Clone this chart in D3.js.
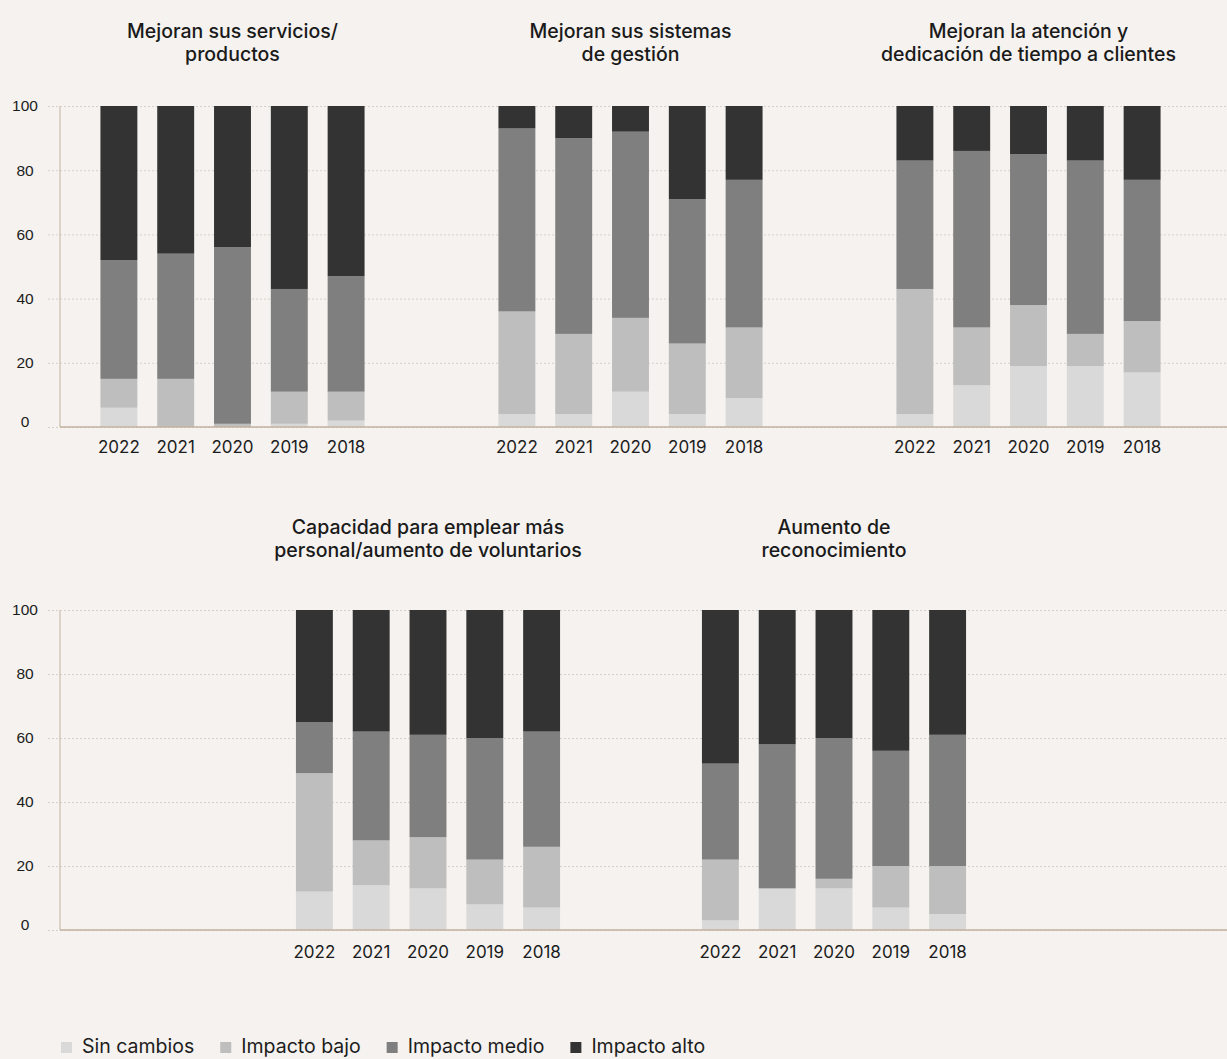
<!DOCTYPE html>
<html>
<head>
<meta charset="utf-8">
<script src="https://cdn.jsdelivr.net/npm/d3@7"></script>
<style>
  body { margin: 0; background: #f5f2ef; }
  svg { display: block; font-family: Inter, "Noto Sans", sans-serif; }
</style>
</head>
<body>
<div id="chart"></div>
<script>
const years = ["2022", "2021", "2020", "2019", "2018"];
const seriesNames = ["Sin cambios", "Impacto bajo", "Impacto medio", "Impacto alto"];
const seriesColors = ["#d9d9d9", "#bebebe", "#7f7f7f", "#333333"];
const yTicks = [0, 20, 40, 60, 80, 100];

// one array per series (sin cambios, bajo, medio, alto), values in year order
const servicios = [[6, 0, 0, 1, 2], [9, 15, 1, 10, 9], [37, 39, 55, 32, 36], [48, 46, 44, 57, 53]];
const gestion = [[4, 4, 11, 4, 9], [32, 25, 23, 22, 22], [57, 61, 58, 45, 46], [7, 10, 8, 29, 23]];
const atencion = [[4, 13, 19, 19, 17], [39, 18, 19, 10, 16], [40, 55, 47, 54, 44], [17, 14, 15, 17, 23]];
const personal = [[12, 14, 13, 8, 7], [37, 14, 16, 14, 19], [16, 34, 32, 38, 36], [35, 38, 39, 40, 38]];
const reconocimiento = [[3, 13, 13, 7, 5], [19, 0, 3, 13, 15], [30, 45, 44, 36, 41], [48, 42, 40, 44, 39]];

const topTitles = [
  ["Mejoran sus servicios/", "productos"],
  ["Mejoran sus sistemas", "de gestión"],
  ["Mejoran la atención y", "dedicación de tiempo a clientes"]
];
const bottomTitles = [
  ["Capacidad para emplear más", "personal/aumento de voluntarios"],
  ["Aumento de", "reconocimiento"]
];

const width = 1227, height = 1059;

const svg = d3.select("#chart")
  .append("svg")
  .attr("width", width)
  .attr("height", height);

svg.append("rect")
  .attr("width", width)
  .attr("height", height)
  .attr("fill", "#f5f2ef");

const stack = d3.stack()
  .keys([0, 1, 2, 3])
  .value((d, k) => d.vals[k]);

// x inside one group (relative to group centre)
const xYear = d3.scaleBand()
  .domain(years)
  .range([-142, 142])
  .paddingInner(0.35)
  .paddingOuter(0.175);

function drawRow(groups, titles, cfg) {
  const g = svg.append("g");

  const y = d3.scaleLinear().domain([0, 100]).range([cfg.bottom, cfg.top]);
  const xGroup = d3.scalePoint()
    .domain(d3.range(groups.length))
    .range(cfg.centers);

  // grid
  g.append("g")
    .attr("transform", "translate(48,0)")
    .call(d3.axisLeft(y).tickValues(yTicks).tickSize(-(width - 48)).tickFormat(""))
    .call(a => a.select(".domain").remove())
    .call(a => a.selectAll(".tick line")
      .attr("stroke", "#d6d1cc")
      .attr("stroke-width", 1)
      .attr("stroke-dasharray", "2,2"));

  // y labels
  g.append("g")
    .attr("transform", "translate(60,0)")
    .call(d3.axisLeft(y).tickValues(yTicks).tickSize(0))
    .call(a => a.select(".domain").remove())
    .call(a => a.selectAll(".tick text")
      .attr("x", -35)
      .attr("dy", d => d === 0 ? "-0.05em" : "0.32em")
      .attr("text-anchor", "middle")
      .attr("fill", "#1c1c1c")
      .style("font-size", "15.5px"));

  // bars
  groups.forEach((vals, gi) => {
    const rows = years.map((yr, i) => ({ year: yr, vals: vals.map(s => s[i]) }));
    const layers = stack(rows);
    const cx = xGroup(gi);

    g.append("g")
      .selectAll("g")
      .data(layers)
      .join("g")
      .attr("fill", (d, i) => seriesColors[i])
      .selectAll("rect")
      .data(d => d)
      .join("rect")
      .attr("x", d => cx + xYear(d.data.year))
      .attr("width", xYear.bandwidth())
      .attr("y", d => y(d[1]))
      .attr("height", d => y(d[0]) - y(d[1]));

    g.append("g")
      .selectAll("text")
      .data(years)
      .join("text")
      .attr("x", d => cx + xYear(d) + xYear.bandwidth() / 2)
      .attr("y", cfg.yearY)
      .attr("text-anchor", "middle")
      .attr("fill", "#1c1c1c")
      .style("font-size", "17px")
      .text(d => d);

    const t = g.append("text")
      .attr("text-anchor", "middle")
      .attr("fill", "#1a1a1a")
      .style("font-size", "19.5px")
      .style("font-weight", 500);
    titles[gi].forEach((line, li) => {
      t.append("tspan")
        .attr("x", cx)
        .attr("y", cfg.titleY + li * 23)
        .text(line);
    });
  });

  // axis lines
  g.append("line")
    .attr("x1", 60).attr("x2", 60)
    .attr("y1", y(100)).attr("y2", y(0))
    .attr("stroke", "#c3b29f");
  g.append("line")
    .attr("x1", 60).attr("x2", width)
    .attr("y1", y(0)).attr("y2", y(0))
    .attr("stroke", "#c3b29f")
    .attr("stroke-width", 1.5);
}

drawRow([servicios, gestion, atencion], topTitles,
  { top: 106, bottom: 427, centers: [232.5, 1028.5], titleY: 38, yearY: 453 });
drawRow([personal, reconocimiento], bottomTitles,
  { top: 610, bottom: 930, centers: [428, 834], titleY: 534, yearY: 958 });

// legend
const legend = svg.append("g").attr("transform", "translate(61,1053)");
let lx = 0;
seriesNames.forEach((name, i) => {
  legend.append("rect")
    .attr("x", lx)
    .attr("y", -11)
    .attr("width", 11)
    .attr("height", 11)
    .attr("fill", seriesColors[i]);
  const txt = legend.append("text")
    .attr("x", lx + 21)
    .attr("y", 0)
    .attr("fill", "#1c1c1c")
    .style("font-size", "19.5px")
    .text(name);
  lx += 21 + txt.node().getComputedTextLength() + 26;
});
</script>
</body>
</html>
